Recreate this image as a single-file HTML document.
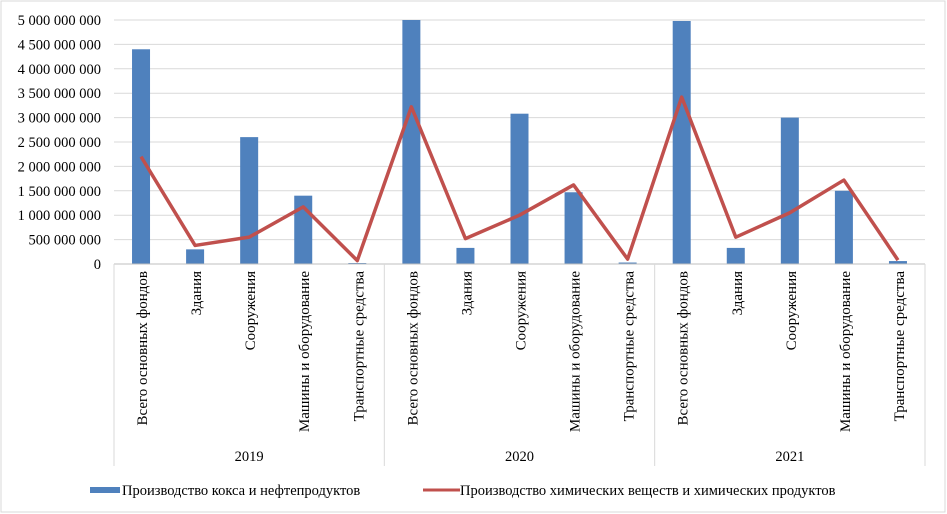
<!DOCTYPE html>
<html><head><meta charset="utf-8"><style>
body{margin:0;background:#fff;}
svg{display:block;}
svg text{font-family:"Liberation Serif","Times New Roman",serif;}
</style></head><body>
<svg id="c" width="947" height="514" font-family="Liberation Serif, serif">
<rect x="1" y="1" width="944" height="511" fill="#fff" stroke="#d9d9d9"/>
</svg>
<script>
const years=["2019","2020","2021"];
const categories=["Всего основных фондов","Здания","Сооружения","Машины и оборудование","Транспортные средства"];
const barValues=[4.4e9,0.3e9,2.6e9,1.4e9,0.02e9, 5.02e9,0.33e9,3.08e9,1.47e9,0.03e9, 4.98e9,0.33e9,3.0e9,1.5e9,0.06e9];
const lineValues=[2.2e9,0.38e9,0.55e9,1.17e9,0.07e9, 3.22e9,0.52e9,1.0e9,1.62e9,0.1e9, 3.42e9,0.55e9,1.05e9,1.72e9,0.08e9];
const yTicks=[0,5e8,1e9,1.5e9,2e9,2.5e9,3e9,3.5e9,4e9,4.5e9,5e9];
const NS="http://www.w3.org/2000/svg";
const svg=document.getElementById('c');
const L=114,R=925,T=20,B=264,YMAX=5e9;
const n=barValues.length,step=(R-L)/n;
const y=v=>B-(Math.min(v,YMAX)/YMAX)*(B-T);
const x=i=>L+step*(i+0.5);
const FF='"Liberation Serif", serif';
function mk(t,a){const e=document.createElementNS(NS,t);for(const k in a)e.setAttribute(k,a[k]);if(t==='text')e.setAttribute('font-family',FF);svg.appendChild(e);return e;}
function fmt(v){return String(v).replace(/\B(?=(\d{3})+(?!\d))/g,' ');}
yTicks.forEach(v=>{
 if(v>0){const g=mk('line',{x1:L,x2:R,y1:y(v),y2:y(v),stroke:'#d9d9d9'});
 
 }
 const t=mk('text',{x:101,y:y(v)+5,'text-anchor':'end','font-size':14.5,fill:'#000'});
 t.textContent=fmt(v);
 
 
});
barValues.forEach((v,i)=>{
 const r=mk('rect',{x:x(i)-9,y:y(v),width:18,height:B-y(v),fill:'#4f81bd'});
 
 
});
const p=mk('polyline',{points:lineValues.map((v,i)=>x(i)+','+y(v)).join(' '),fill:'none',stroke:'#c0504d','stroke-width':3.5,'stroke-linejoin':'round'});


const ax=mk('line',{x1:L,x2:R,y1:B,y2:B,stroke:'#bfbfbf'});


for(let g=0;g<=3;g++){
 const sx=L+g*5*step;
 const s=mk('line',{x1:sx,x2:sx,y1:B,y2:466,stroke:'#d9d9d9'});
 
 
}
years.forEach((yr,g)=>{
 const t=mk('text',{x:L+(g*5+2.5)*step,y:461,'text-anchor':'middle','font-size':14.5});
 t.textContent=yr;
 
 
});
for(let i=0;i<n;i++){
 const cx=x(i)+6;
 const t=mk('text',{x:0,y:0,'text-anchor':'end','font-size':15,transform:`translate(${cx},271) rotate(-90)`});
 t.textContent=categories[i%5];
 
 
}
const lb=mk('rect',{x:90,y:487,width:30,height:6,fill:'#4f81bd'});


const lt1=mk('text',{x:122,y:495,'font-size':14.5});
lt1.textContent='Производство кокса и нефтепродуктов';


const ll=mk('line',{x1:423,x2:460,y1:490,y2:490,stroke:'#c0504d','stroke-width':3});


const lt2=mk('text',{x:460,y:495,'font-size':14.5});
lt2.textContent='Производство химических веществ и химических продуктов';


</script>
</body></html>
